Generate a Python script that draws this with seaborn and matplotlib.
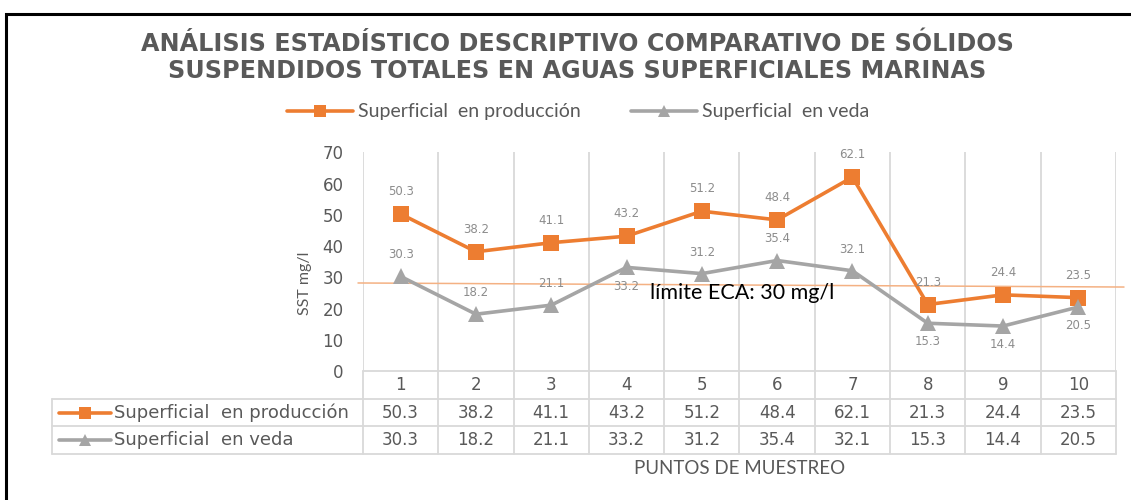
import numpy as np
import pandas as pd
import matplotlib
matplotlib.use("Agg")
import matplotlib.pyplot as plt
from matplotlib.patches import Rectangle
from matplotlib.lines import Line2D
import seaborn as sns

# ---------------- data ----------------
puntos = ["1", "2", "3", "4", "5", "6", "7", "8", "9", "10"]
serie_prod = "Superficial  en producción"
serie_veda = "Superficial  en veda"
valores_prod = [50.3, 38.2, 41.1, 43.2, 51.2, 48.4, 62.1, 21.3, 24.4, 23.5]
valores_veda = [30.3, 18.2, 21.1, 33.2, 31.2, 35.4, 32.1, 15.3, 14.4, 20.5]
# label placement for the gray series (above / below the marker)
pos_veda = ["above", "above", "above", "below", "above", "above", "above", "below", "below", "below"]
eca_texto = "límite ECA: 30 mg/l"
eca_linea = [28.2, 26.9]          # drawn reference line (left / right end values)
y_ticks = [0, 10, 20, 30, 40, 50, 60, 70]
titulo = ["ANÁLISIS ESTADÍSTICO DESCRIPTIVO COMPARATIVO DE SÓLIDOS",
          "SUSPENDIDOS TOTALES EN AGUAS SUPERFICIALES MARINAS"]
y_label = "SST mg/l"
x_label = "PUNTOS DE MUESTREO"

ORANGE = "#ED7D31"
GRAY = "#A5A5A5"
TXT = "#595959"
LBL = "#8C8C8C"
GRID = "#D9D9D9"

df = pd.DataFrame({
    "x": list(range(len(puntos))) * 2,
    "valor": valores_prod + valores_veda,
    "serie": [serie_prod] * len(puntos) + [serie_veda] * len(puntos),
})

sns.set_theme(style="white")
plt.rcParams["font.family"] = ["DejaVu Sans"]

W, H = 1131, 500
fig = plt.figure(figsize=(W / 100, H / 100), dpi=100)

def fx(px):
    return px / W

def fy(py):
    return 1 - py / H

# plot area geometry (pixels)
PL, PR, PT, PB = 363, 1116, 152.5, 371
TL, TB = 52, 454
band = (PR - PL) / len(puntos)

ax = fig.add_axes([fx(PL), fy(PB), (PR - PL) / W, (PB - PT) / H])
sns.lineplot(data=df, x="x", y="valor", hue="serie", style="serie",
             palette={serie_prod: ORANGE, serie_veda: GRAY},
             markers={serie_prod: "s", serie_veda: "^"}, dashes=False,
             markersize=12, markeredgewidth=0, linewidth=2.6, ax=ax,
             legend=False, zorder=5)
ax.set_xlim(-0.5, len(puntos) - 0.5)
ax.set_ylim(0, 70)
ax.set_yticks(y_ticks)
ax.set_yticklabels([str(t) for t in y_ticks], color=TXT, fontsize=12)
ax.tick_params(axis="y", length=0, pad=14)
bounds = np.arange(len(puntos) + 1) - 0.5
ax.set_xticks([])
ax.grid(False)
ax.vlines(bounds, 0, 70, color=GRID, lw=1.3, zorder=1)
for s in ax.spines.values():
    s.set_visible(False)
ax.set_xlabel("")
ax.set_ylabel("")

# reference line and label
x_left = -0.5 + (358 - PL) / band
x_right = -0.5 + (1124 - PL) / band
ax.plot([x_left, x_right], eca_linea, color="#F4B183", lw=1.1, clip_on=False, zorder=2)
ax.text(-0.5 + (650 - PL) / band, 25.0, eca_texto, fontsize=15.5, family=["Lato", "DejaVu Sans"],
        color="black", ha="left", va="center", zorder=6)

# data labels
for i, v in enumerate(valores_prod):
    ax.annotate(f"{v:.1f}", (i, v), xytext=(0, 16), textcoords="offset points",
                ha="center", va="center", fontsize=8.5, color=LBL, zorder=7)
for i, (v, p) in enumerate(zip(valores_veda, pos_veda)):
    off = 15.5 if p == "above" else -13.5
    ax.annotate(f"{v:.1f}", (i, v), xytext=(0, off), textcoords="offset points",
                ha="center", va="center", fontsize=8.5, color=LBL, zorder=7)

# ---------------- data table ----------------
axt = fig.add_axes([fx(TL), fy(TB), (PR - TL) / W, (TB - PB) / H])
t_left = -0.5 - (PL - TL) / band
axt.set_xlim(t_left, len(puntos) - 0.5)
axt.set_ylim(3, 0)
axt.axis("off")
lk = dict(color=GRID, lw=1.3, clip_on=False)
axt.plot([-0.5, len(puntos) - 0.5], [0, 0], **lk)
for yy in (1, 2, 3):
    axt.plot([t_left, len(puntos) - 0.5], [yy, yy], **lk)
axt.plot([t_left, t_left], [1, 3], **lk)
for b in bounds:
    axt.plot([b, b], [0, 3], **lk)
for i, p in enumerate(puntos):
    axt.text(i, 0.5, p, ha="center", va="center", fontsize=12, color=TXT)
    axt.text(i, 1.5, f"{valores_prod[i]:.1f}", ha="center", va="center", fontsize=12, color=TXT)
    axt.text(i, 2.5, f"{valores_veda[i]:.1f}", ha="center", va="center", fontsize=12, color=TXT)

def tx(px):
    return -0.5 + (px - PL) / band

for row, name, col, mk in ((1.5, serie_prod, ORANGE, "s"), (2.5, serie_veda, GRAY, "^")):
    axt.plot([tx(59), tx(111)], [row, row], color=col, lw=2.6, clip_on=False)
    axt.plot([tx(85)], [row], marker=mk, color=col, markersize=9, markeredgewidth=0, clip_on=False)
    axt.text(tx(114), row, name, ha="left", va="center", fontsize=13, color=TXT)

# ---------------- texts ----------------
fig.text(fx(577), fy(44), titulo[0], ha="center", va="center", fontsize=17.2,
         fontweight="bold", color=TXT)
fig.text(fx(577), fy(71), titulo[1], ha="center", va="center", fontsize=17.2,
         fontweight="bold", color=TXT)
fig.text(fx(305), fy(283), y_label, rotation=90, ha="center", va="center", fontsize=11.5,
         color=TXT, family=["Lato", "DejaVu Sans"])
fig.text(fx((PL + PR) / 2), fy(468), x_label, ha="center", va="center", fontsize=13.5,
         color=TXT, family=["Lato", "DejaVu Sans"])

handles = [Line2D([], [], color=ORANGE, lw=2.6, marker="s", markersize=9, markeredgewidth=0),
           Line2D([], [], color=GRAY, lw=2.6, marker="^", markersize=9, markeredgewidth=0)]
leg = fig.legend(handles, [serie_prod, serie_veda], loc="center",
                 bbox_to_anchor=(fx(578), fy(112)), ncol=2, frameon=False,
                 handlelength=3.4, handletextpad=0.25, columnspacing=2.6,
                 prop={"family": ["Lato", "DejaVu Sans"], "size": 14})
for t in leg.get_texts():
    t.set_color(TXT)

# outer black frame
fig.patches.append(Rectangle((fx(6), -0.05), 1.2, fy(14) + 0.05, transform=fig.transFigure,
                             fill=False, edgecolor="black", lw=2.2))

fig.savefig("out.png", dpi=100)
